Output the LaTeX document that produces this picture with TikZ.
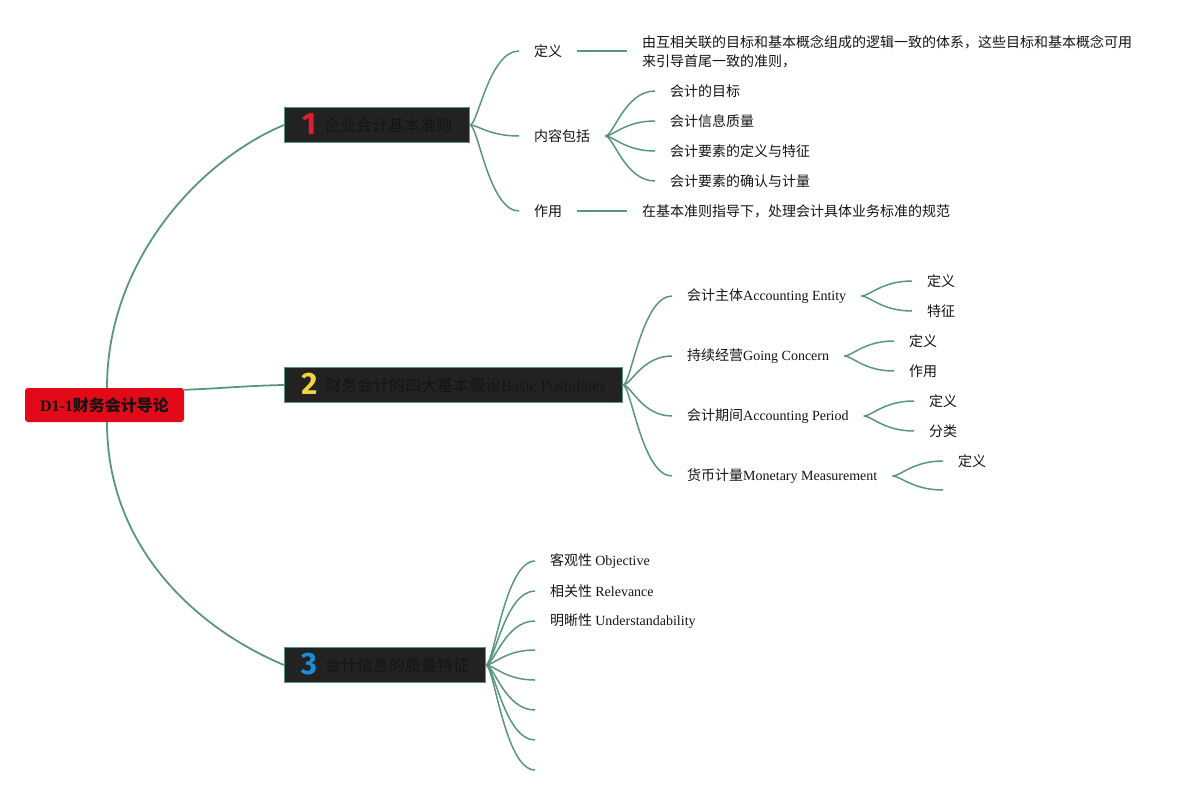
\documentclass[tikz,border=0pt]{standalone}
\usepackage{fontspec}
\setmainfont{Noto Sans CJK SC}
\newfontfamily\lat{Liberation Serif}
\newfontfamily\digitfont{Fira Sans}
\usetikzlibrary{calc}
\definecolor{linegreen}{RGB}{90,150,126}
\definecolor{boxfill}{RGB}{34,34,34}
\definecolor{rootred}{RGB}{226,10,24}
\definecolor{txt}{RGB}{20,20,20}
\definecolor{iconred}{RGB}{222,30,42}
\definecolor{iconyellow}{RGB}{240,212,70}
\definecolor{iconblue}{RGB}{30,140,212}
\tikzset{
  conn/.style={draw=linegreen, line width=1.5pt},
  leaf/.style={anchor=west, inner xsep=15pt, inner ysep=2pt, font=\fontsize{14}{19}\selectfont, text=txt, align=left},
  topic/.style={anchor=west, draw=linegreen, line width=1pt, fill=boxfill, minimum height=35pt, inner xsep=0pt, inner ysep=0pt, font=\fontsize{16}{20}\selectfont, text=txt},
  rootnode/.style={fill=rootred, rounded corners=3pt, minimum width=159pt, minimum height=34pt, inner sep=0pt, font=\fontsize{16}{20}\selectfont\bfseries, text=txt}
}
\newcommand{\icon}[2]{\smash{\raisebox{-3.8pt}{\digitfont\bfseries\fontsize{31}{31}\selectfont\textcolor{#1}{#2}}}\hspace{8pt}}
\newcommand{\fan}[2]{\draw[conn] (#1) .. controls ([xshift=8pt]#1) and ([xshift=-30pt]#2) .. (#2);}
\begin{document}
\begin{tikzpicture}[x=1pt, y=-1pt]
\useasboundingbox (0,0) rectangle (1202,795);
% root
\node[rootnode] (root) at (104.5,405) {{\lat D1-1}财务会计导论};
% topics
\node[topic, minimum width=185pt] (b1) at (284,125) {\icon{iconred}{1}企业会计基本准则};
\node[topic, minimum width=338pt] (b2) at (284,385) {\icon{iconyellow}{2}财务会计的四大基本假设{\lat Basic Postulates}};
\node[topic, minimum width=201pt] (b3) at (284,665) {\icon{iconblue}{3}会计信息的质量特征};
% root connectors
\draw[conn, line width=1.8pt] ([xshift=2.5pt]root.north) .. controls (107,260) and (200,160) .. (b1.west);
\draw[conn, line width=1.8pt] ($(root.north east)+(0,2)$) .. controls (230,388) and (240,386) .. (b2.west);
\draw[conn, line width=1.8pt] ([xshift=2.5pt]root.south) .. controls (107,550) and (200,630) .. (b3.west);
% branch 1
\node[leaf] (d1) at (519,51) {定义};
\node[leaf] (d1t) at (627,52) {由互相关联的目标和基本概念组成的逻辑一致的体系，这些目标和基本概念可用\\来引导首尾一致的准则，};
\node[leaf] (c1) at (519,136) {内容包括};
\node[leaf] (c1a) at (655,91) {会计的目标};
\node[leaf] (c1b) at (655,121) {会计信息质量};
\node[leaf] (c1c) at (655,151) {会计要素的定义与特征};
\node[leaf] (c1d) at (655,181) {会计要素的确认与计量};
\node[leaf] (z1) at (519,211) {作用};
\node[leaf] (z1t) at (627,211) {在基本准则指导下，处理会计具体业务标准的规范};
\fan{b1.east}{d1.west}
\fan{b1.east}{c1.west}
\fan{b1.east}{z1.west}
\draw[conn] (d1.east) -- (d1.east -| d1t.west);
\draw[conn] (z1.east) -- (z1t.west);
\fan{c1.east}{c1a.west}
\fan{c1.east}{c1b.west}
\fan{c1.east}{c1c.west}
\fan{c1.east}{c1d.west}
% branch 2
\node[leaf] (e1) at (672,296) {会计主体{\lat Accounting Entity}};
\node[leaf] (e2) at (672,356) {持续经营{\lat Going Concern}};
\node[leaf] (e3) at (672,416) {会计期间{\lat Accounting Period}};
\node[leaf] (e4) at (672,476) {货币计量{\lat Monetary Measurement}};
\fan{b2.east}{e1.west}
\fan{b2.east}{e2.west}
\fan{b2.east}{e3.west}
\fan{b2.east}{e4.west}
\node[leaf] (e1a) at (912,281) {定义};
\node[leaf] (e1b) at (912,311) {特征};
\node[leaf] (e2a) at (894,341) {定义};
\node[leaf] (e2b) at (894,371) {作用};
\node[leaf] (e3a) at (914,401) {定义};
\node[leaf] (e3b) at (914,431) {分类};
\node[leaf] (e4a) at (943,461) {定义};
\coordinate (e4b) at (943,490);
\fan{e1.east}{e1a.west}
\fan{e1.east}{e1b.west}
\fan{e2.east}{e2a.west}
\fan{e2.east}{e2b.west}
\fan{e3.east}{e3a.west}
\fan{e3.east}{e3b.west}
\fan{e4.east}{e4a.west}
\fan{e4.east}{e4b}
% branch 3
\node[leaf] (f1) at (535,561) {客观性 {\lat Objective}};
\node[leaf] (f2) at (535,591) {相关性 {\lat Relevance}};
\node[leaf] (f3) at (535,621) {明晰性 {\lat Understandability}};
\coordinate (f4) at (535,650);
\coordinate (f5) at (535,680);
\coordinate (f6) at (535,710);
\coordinate (f7) at (535,740);
\coordinate (f8) at (535,770);
\fan{b3.east}{f1.west}
\fan{b3.east}{f2.west}
\fan{b3.east}{f3.west}
\fan{b3.east}{f4}
\fan{b3.east}{f5}
\fan{b3.east}{f6}
\fan{b3.east}{f7}
\fan{b3.east}{f8}
\end{tikzpicture}
\end{document}
